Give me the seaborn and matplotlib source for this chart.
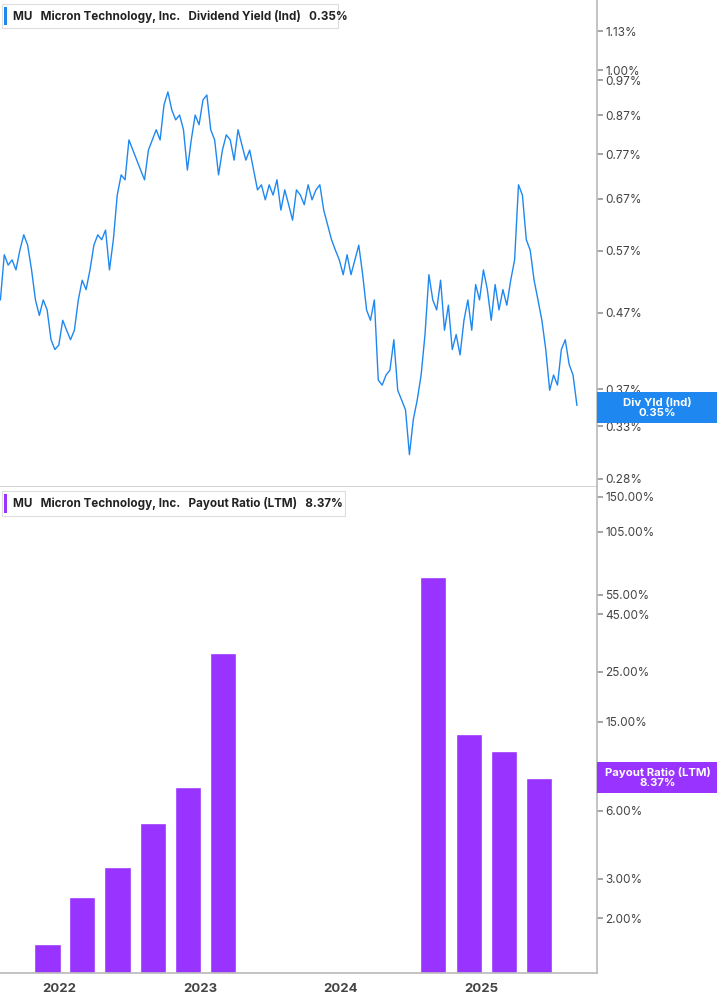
import numpy as np
import pandas as pd
import matplotlib
matplotlib.use("Agg")
import matplotlib.pyplot as plt
import matplotlib.dates as mdates
from matplotlib.ticker import FixedLocator, NullLocator
import seaborn as sns

sns.set_theme(style="white")
plt.rcParams["font.family"] = "Inter"

yield_vals = [0.489,0.563,0.545,0.554,0.537,0.571,0.599,0.580,0.537,0.489,0.466,0.489,0.474,0.432,0.419,0.425,0.459,0.445,0.432,0.445,
0.489,0.520,0.505,0.537,0.580,0.599,0.590,0.608,0.537,0.590,0.678,0.722,0.711,0.805,0.780,0.756,0.733,0.711,0.780,0.805,
0.831,0.805,0.898,0.935,0.884,0.857,0.870,0.831,0.733,0.805,0.870,0.844,0.912,0.926,0.831,0.805,0.722,0.780,0.818,0.805,
0.756,0.831,0.793,0.756,0.780,0.733,0.689,0.700,0.668,0.700,0.678,0.711,0.647,0.689,0.658,0.627,0.689,0.678,0.658,0.700,
0.668,0.689,0.700,0.647,0.618,0.590,0.571,0.554,0.529,0.563,0.529,0.554,0.580,0.529,0.474,0.459,0.489,0.381,0.375,0.387,
0.393,0.432,0.369,0.358,0.347,0.302,0.337,0.358,0.387,0.439,0.529,0.489,0.474,0.520,0.445,0.481,0.419,0.439,0.412,0.459,
0.489,0.445,0.513,0.489,0.537,0.505,0.459,0.513,0.474,0.505,0.481,0.520,0.554,0.700,0.678,0.590,0.571,0.520,0.489,0.459,
0.419,0.369,0.387,0.375,0.419,0.432,0.400,0.387,0.352]
yield_dates = pd.date_range("2021-08-01", "2025-09-05", periods=len(yield_vals))

payout_dates = pd.to_datetime(["2021-12-01","2022-03-01","2022-06-01","2022-09-01","2022-12-01","2023-03-01",
                               "2024-08-28","2024-11-28","2025-02-27","2025-05-29"])
payout_vals = [1.53, 2.48, 3.37, 5.30, 7.67, 30.2, 66.2, 13.2, 11.1, 8.37]

yield_ticks = [0.28,0.33,0.37,0.47,0.57,0.67,0.77,0.87,0.97,1.00,1.13]
payout_ticks = [2,3,6,15,25,45,55,105,150]
year_ticks = ["2022","2023","2024","2025"]

BLUE = "#1E88F0"
PURPLE = "#9933FF"
GRAY = "#444444"

fig = plt.figure(figsize=(7.17, 10.05), dpi=100)
ax1 = fig.add_axes([0, 0.5154, 0.8326, 0.4846])
ax2 = fig.add_axes([0, 0.0318, 0.8326, 0.4836], sharex=ax1)

df = pd.DataFrame({"date": yield_dates, "y": yield_vals})
sns.lineplot(data=df, x="date", y="y", ax=ax1, color=BLUE, lw=1.0)
ax2.bar(payout_dates, payout_vals, width=68, color=PURPLE, bottom=0.01)

xmin = pd.Timestamp("2021-07-31"); xmax = pd.Timestamp("2025-10-27")
ax1.set_xlim(xmin, xmax)

for ax, ticks, lim, fmt in [(ax1, yield_ticks, (0.273, 1.245), "{:.2f}%"),
                            (ax2, payout_ticks, (1.14, 166), "{:.2f}%")]:
    ax.set_yscale("log")
    ax.set_ylim(*lim)
    ax.yaxis.set_major_locator(FixedLocator(ticks))
    ax.yaxis.set_minor_locator(NullLocator())
    ax.set_yticklabels([fmt.format(t) for t in ticks])
    ax.yaxis.tick_right()
    ax.tick_params(axis="y", direction="out", length=4, color="#999999",
                   labelsize=8.5, labelcolor=GRAY, pad=2)
    for s in ["top", "left", "bottom"]:
        ax.spines[s].set_visible(False)
    ax.spines["right"].set_color("#BBBBBB")
    ax.set_xlabel(""); ax.set_ylabel("")

ax1.spines["bottom"].set_visible(True)
ax1.spines["bottom"].set_color("#CCCCCC")
ax1.tick_params(axis="x", bottom=False, labelbottom=False)
ax2.spines["bottom"].set_visible(True)
ax2.spines["bottom"].set_color("#BBBBBB")
ax2.xaxis.set_major_locator(FixedLocator([mdates.date2num(pd.Timestamp(y + "-01-01")) for y in year_ticks]))
ax2.set_xticklabels(year_ticks)
ax2.tick_params(axis="x", direction="out", length=4, color="#999999", labelsize=9.5,
                labelcolor=GRAY, pad=3)
for t in ax2.get_xticklabels():
    t.set_fontweight("bold")

def legend(text, color, y, w):
    fig.patches.append(plt.Rectangle((0.003, y - 0.010), w, 0.024, transform=fig.transFigure,
                                     facecolor="white", edgecolor="#DDDDDD", lw=0.8))
    fig.patches.append(plt.Rectangle((0.006, y - 0.007), 0.004, 0.018, transform=fig.transFigure,
                                     facecolor=color, edgecolor="none"))
    fig.text(0.018, y + 0.002, text, fontsize=8.4, fontweight="bold", color="#222222", va="center")

legend("MU   Micron Technology, Inc.   Dividend Yield (Ind)   0.35%", BLUE, 0.982, 0.468)
legend("MU   Micron Technology, Inc.   Payout Ratio (LTM)   8.37%", PURPLE, 0.497, 0.478)

fig.patches.append(plt.Rectangle((0.8326, 0.579), 0.1674, 0.0305, transform=fig.transFigure,
                                 facecolor=BLUE, edgecolor="none"))
fig.text(0.917, 0.5943, "Div Yld (Ind)\n0.35%", ha="center", va="center", fontsize=8.2,
         color="white", fontweight="bold", linespacing=1.0)
fig.patches.append(plt.Rectangle((0.8326, 0.2105), 0.1674, 0.031, transform=fig.transFigure,
                                 facecolor=PURPLE, edgecolor="none"))
fig.text(0.917, 0.226, "Payout Ratio (LTM)\n8.37%", ha="center", va="center", fontsize=8.2,
         color="white", fontweight="bold", linespacing=1.0)

fig.savefig("out.png", dpi=100, facecolor="white")
